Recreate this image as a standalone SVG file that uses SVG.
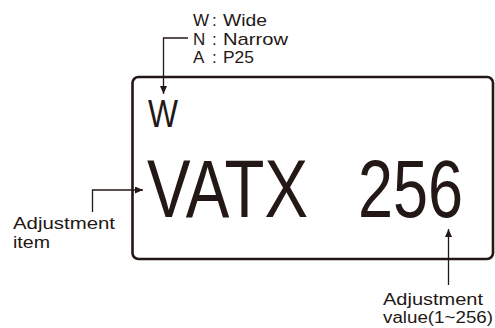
<svg xmlns="http://www.w3.org/2000/svg" width="495" height="328" viewBox="0 0 495 328">
<defs>
<style>
text{font-family:"Liberation Sans",Arial,sans-serif;fill:#231815}
.s{font-size:17px}
.r{font-size:16px}
.big{font-size:81px}
.lead{fill:none;stroke:#231815;stroke-width:1.3}
.box{fill:#fff;stroke:#231815;stroke-width:2.6}
</style>
<marker id="ah" viewBox="0 0 8 7" refX="8" refY="3.5" markerWidth="8" markerHeight="7" markerUnits="userSpaceOnUse" orient="auto">
<path d="M0,0 L8,3.5 L0,7 Z" fill="#231815"/>
</marker>
</defs>
<g id="display">
<rect class="box" x="132.5" y="77" width="360.5" height="182" rx="6"/>
<text x="148" y="127" style="font-size:39px" textLength="30" lengthAdjust="spacingAndGlyphs">W</text>
<text class="big" x="147" y="217" textLength="161" lengthAdjust="spacingAndGlyphs">VATX</text>
<text class="big" x="358" y="217" textLength="105" lengthAdjust="spacingAndGlyphs">256</text>
</g>
<g id="legend">
<text class="s" x="193" y="26">W</text>
<text class="s" x="212" y="26">:</text>
<text class="s" x="223" y="26" textLength="44" lengthAdjust="spacingAndGlyphs">Wide</text>
<text class="s" x="193" y="44.5">N</text>
<text class="s" x="212" y="44.5">:</text>
<text class="s" x="223" y="44.5" textLength="65" lengthAdjust="spacingAndGlyphs">Narrow</text>
<text class="s" x="193" y="63">A</text>
<text class="s" x="212" y="63">:</text>
<text class="s" x="223" y="63" textLength="31" lengthAdjust="spacingAndGlyphs">P25</text>
</g>
<g id="item-label">
<text class="s" x="13" y="228.5" textLength="102" lengthAdjust="spacingAndGlyphs">Adjustment</text>
<text class="s" x="13" y="248" textLength="37" lengthAdjust="spacingAndGlyphs">item</text>
</g>
<g id="value-label">
<text class="r" x="383" y="304.5" textLength="100" lengthAdjust="spacingAndGlyphs">Adjustment</text>
<text class="r" x="383" y="323" textLength="110" lengthAdjust="spacingAndGlyphs">value(1~256)</text>
</g>
<g id="connectors">
<path class="lead" d="M188,38 H163.5 V94" marker-end="url(#ah)"/>
<path class="lead" d="M92.5,212 V190 H143" marker-end="url(#ah)"/>
<path class="lead" d="M448.5,285 V229" marker-end="url(#ah)"/>
</g>
</svg>
